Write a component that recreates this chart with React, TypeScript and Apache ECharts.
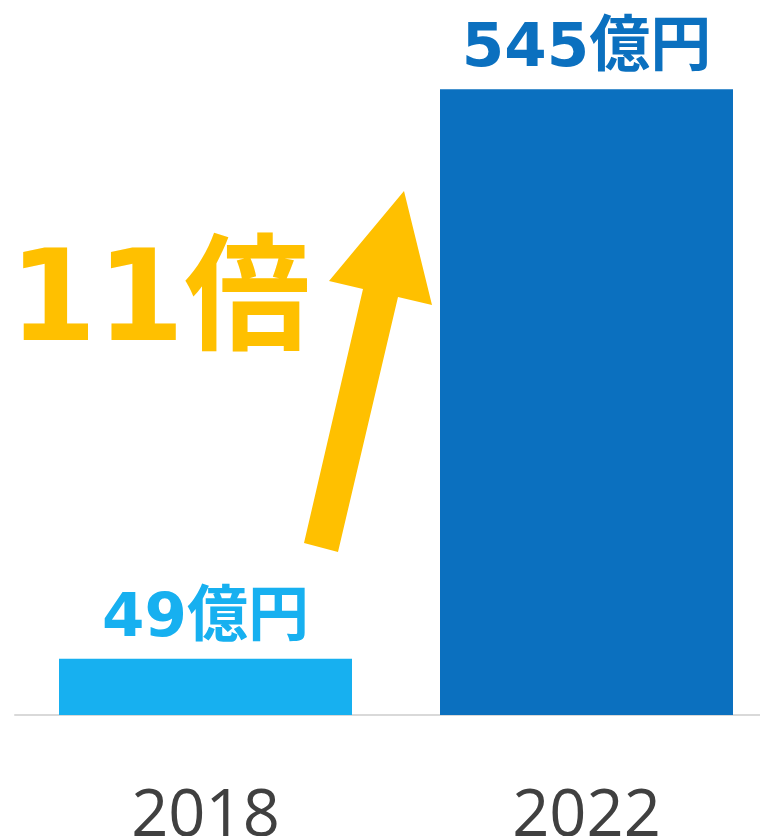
import React, { useEffect, useRef } from "react";
import * as echarts from "echarts";

const categories = ["2018", "2022"];
const values = [49, 545];
const valueLabels = ["49億円", "545億円"];
const barColors = ["#17B0F0", "#0B70BF"];
const multiplierText = "11倍";

export default function App() {
  const ref = useRef<HTMLDivElement>(null);
  useEffect(() => {
    if (!ref.current) return;
    const chart = echarts.init(ref.current, undefined, { renderer: "svg" });
    chart.setOption({
      animation: false,
      backgroundColor: "#ffffff",
      grid: {
        left: 15,
        right: -17,
        top: 26,
        bottom: 121,
        containLabel: false,
        outerBoundsMode: "none",
      },
      xAxis: {
        type: "category",
        data: categories,
        axisLine: { show: true, lineStyle: { color: "#D9D9D9", width: 2 } },
        axisTick: { show: false },
        axisLabel: {
          color: "#404040",
          fontSize: 65,
          fontFamily: '"Open Sans", "Noto Sans", sans-serif',
          margin: 63,
        },
      },
      yAxis: {
        type: "value",
        min: 0,
        max: 600,
        show: false,
        splitLine: { show: false },
      },
      series: [
        {
          type: "bar",
          barWidth: 293,
          data: values.map((v, i) => ({
            value: v,
            itemStyle: { color: barColors[i] },
            label: {
              show: true,
              position: "top",
              distance: 14,
              formatter: valueLabels[i],
              color: barColors[i],
              fontSize: 61,
              fontWeight: "bold",
              fontFamily: '"DejaVu Sans", "Noto Sans CJK JP", sans-serif',
            },
          })),
        },
      ],
      graphic: [
        {
          type: "polygon",
          shape: {
            points: [
              [304, 543],
              [363, 289],
              [329, 281],
              [404, 191],
              [432, 305],
              [398, 297],
              [338, 552],
            ],
          },
          style: { fill: "#FFC000" },
        },
        {
          type: "text",
          x: 9,
          y: 296,
          style: {
            text: multiplierText,
            fill: "#FFC000",
            fontSize: 126,
            fontWeight: "bold",
            fontFamily: '"DejaVu Sans", "Noto Sans CJK JP", sans-serif',
            align: "left",
            verticalAlign: "middle",
          },
        },
      ],
    });
    return () => chart.dispose();
  }, []);
  return (
    <div
      ref={ref}
      style={{ position: "fixed", left: 0, top: 0, width: 760, height: 836 }}
    />
  );
}
